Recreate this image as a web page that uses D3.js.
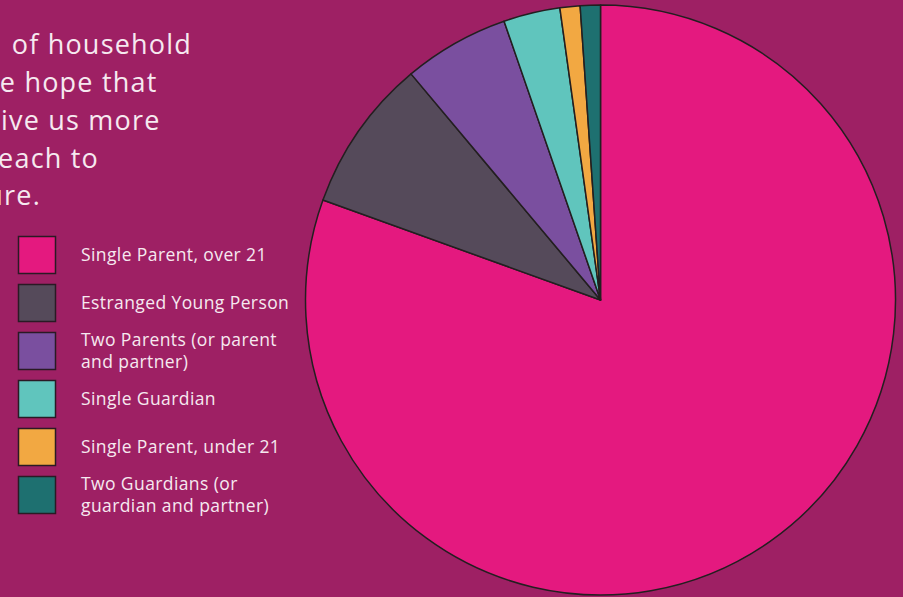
<!DOCTYPE html>
<html>
<head>
<meta charset="utf-8">
<script src="https://cdn.jsdelivr.net/npm/d3@7/dist/d3.min.js"></script>
<style>
  html, body { margin: 0; padding: 0; background: #9e2064; }
  svg { display: block; }
</style>
</head>
<body>
<svg id="chart" width="903" height="597"></svg>
<script>
// Household type shares (percent of respondents)
const categories = [
  "Single Parent, over 21",
  "Estranged Young Person",
  "Two Parents (or parent and partner)",
  "Single Guardian",
  "Single Parent, under 21",
  "Two Guardians (or guardian and partner)"
];
const values = [80.5, 8.4, 5.8, 3.1, 1.1, 1.1];
const colors = ["#e4197f", "#554a5a", "#7a4f9f", "#60c5bd", "#f2a842", "#1e7070"];
// Legend labels, wrapped as they are set
const legendLines = [
  ["Single Parent, over 21"],
  ["Estranged Young Person"],
  ["Two Parents (or parent", "and partner)"],
  ["Single Guardian"],
  ["Single Parent, under 21"],
  ["Two Guardians (or", "guardian and partner)"]
];
// Intro copy, right-aligned ends of each line (the block bleeds off the left edge)
const introLines = ["of household", "the hope that", "give us more", "reach to", "future."];

const svg = d3.select("#chart");
const W = 903, H = 597;
const bg = "#9e2064";
const ink = "#f6e9f0";
const font = "'Open Sans', 'Noto Sans', sans-serif";

svg.append("rect").attr("width", W).attr("height", H).attr("fill", bg);

// Pie
const cx = 600.5, cy = 300, r = 295;
const pie = d3.pie().sort(null).value(d => d);
const arc = d3.arc().innerRadius(0).outerRadius(r);
const color = d3.scaleOrdinal().domain(categories).range(colors);

const g = svg.append("g").attr("transform", `translate(${cx},${cy})`);
g.selectAll("path")
  .data(pie(values))
  .join("path")
  .attr("d", arc)
  .attr("fill", (d, i) => color(categories[i]))
  .attr("stroke", "#231f20")
  .attr("stroke-width", 1.5)
  .attr("stroke-linejoin", "round");

// Intro text
const introEnds = [192, 157.5, 160.5, 99, 41];
const introY = [54, 92, 130, 168, 205];
svg.append("g")
  .selectAll("text")
  .data(introLines)
  .join("text")
  .attr("x", (d, i) => introEnds[i])
  .attr("y", (d, i) => introY[i])
  .attr("text-anchor", "end")
  .attr("fill", ink)
  .attr("font-family", font)
  .attr("font-size", 27)
  .attr("letter-spacing", 1.2)
  .text(d => d);

// Legend
const legend = svg.append("g");
const rowY = d3.scaleLinear().domain([0, 1]).range([236, 284]);
const items = legend.selectAll("g")
  .data(categories)
  .join("g")
  .attr("transform", (d, i) => `translate(18,${rowY(i)})`);

items.append("rect")
  .attr("x", 0.5).attr("y", 0.5)
  .attr("width", 37).attr("height", 37)
  .attr("fill", d => color(d))
  .attr("stroke", "#2a1a24")
  .attr("stroke-width", 1.5);

items.append("text")
  .attr("x", 63)
  .attr("fill", ink)
  .attr("font-family", font)
  .attr("font-size", 17.5)
  .attr("letter-spacing", 0.4)
  .each(function(d, i) {
    const lines = legendLines[i];
    const lh = 22;
    const base = 24.5 - (lines.length - 1) * lh / 2;
    d3.select(this).selectAll("tspan")
      .data(lines)
      .join("tspan")
      .attr("x", 63)
      .attr("y", (l, j) => base + j * lh)
      .text(l => l);
  });
</script>
</body>
</html>
